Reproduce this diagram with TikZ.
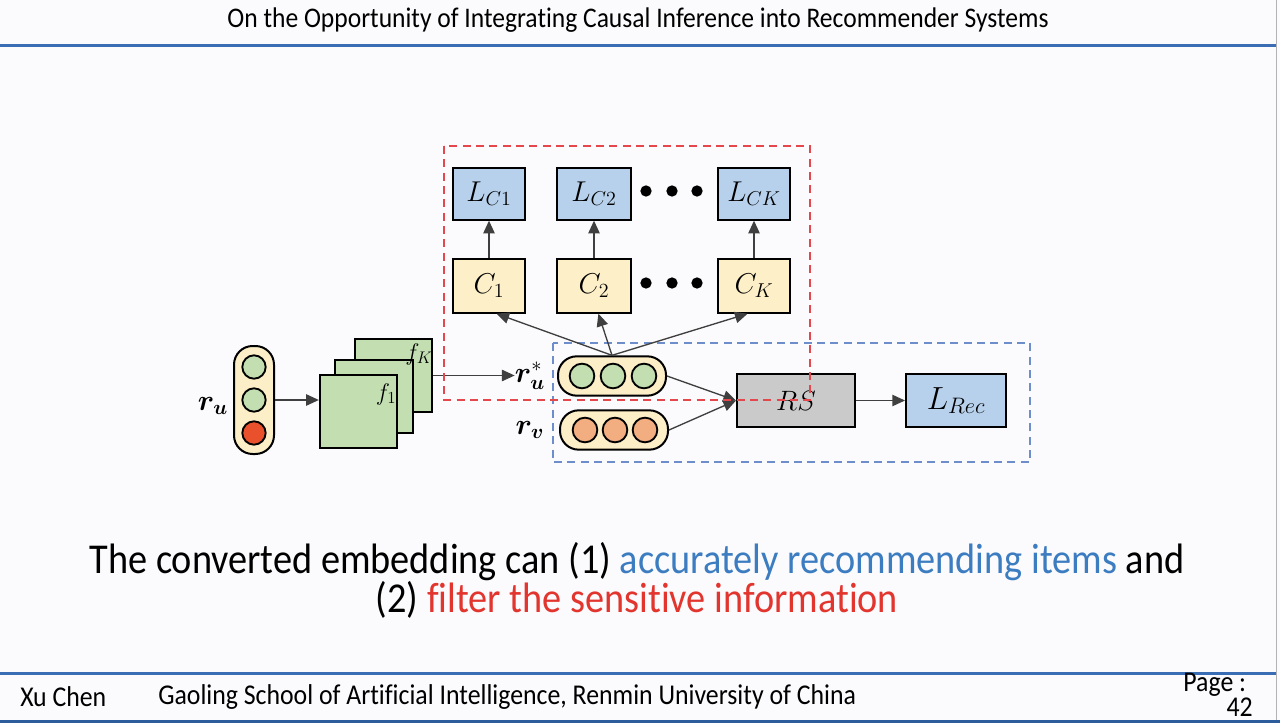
\RequirePackage{fix-cm}
\documentclass[tikz,border=0pt]{standalone}
\usepackage{amsmath,bm}
\usepackage[no-math]{fontspec}
\setmainfont{Carlito}[Ligatures=NoCommon]
\usetikzlibrary{arrows.meta,calc}

\definecolor{slidebg}{HTML}{FBFBFD}
\definecolor{barblue}{HTML}{3A6DB3}
\definecolor{bardark}{HTML}{2D5C9C}
\definecolor{lossblue}{HTML}{B7D1EC}
\definecolor{clsyellow}{HTML}{FDF0C9}
\definecolor{capyellow}{HTML}{FCEFC8}
\definecolor{embgreen}{HTML}{C3DFB2}
\definecolor{embred}{HTML}{E8512C}
\definecolor{emborange}{HTML}{F2AE80}
\definecolor{rsgray}{HTML}{CACACA}
\definecolor{arrgray}{HTML}{3F3F3F}
\definecolor{dashred}{HTML}{E5484C}
\definecolor{dashblue}{HTML}{6D8DCB}
\definecolor{txtblue}{HTML}{3C7CC0}
\definecolor{txtred}{HTML}{E2352E}

\tikzset{
  box/.style={draw=black, line width=1.5pt, inner sep=0pt},
  lossbox/.style={box, fill=lossblue, minimum width=54pt, minimum height=38.5pt,
    font=\fontsize{21.5}{24}\selectfont},
  clsbox/.style={box, fill=clsyellow, minimum width=54pt, minimum height=40pt,
    font=\fontsize{21.5}{24}\selectfont},
  capsule/.style={box, fill=capyellow, rounded corners=14pt},
  emb/.style={circle, draw=black, line width=1.4pt, minimum size=18.5pt, inner sep=0pt},
  filt/.style={box, fill=embgreen, minimum width=58pt, minimum height=55pt},
  bigdot/.style={circle, fill=black, minimum size=8.5pt, inner sep=0pt},
  arr/.style={draw=arrgray, line width=1pt, -{Triangle[length=9.5pt,width=8.5pt]}},
  reddash/.style={draw=dashred, line width=1.2pt, dash pattern=on 6pt off 4pt},
  bluedash/.style={draw=dashblue, line width=1.2pt, dash pattern=on 6pt off 4pt},
  vlabel/.style={inner sep=0pt, font=\fontsize{22}{24}\selectfont},
  slidetext/.style={inner sep=0pt, font=\fontsize{21.5}{24}\selectfont},
}

\begin{document}
\begin{tikzpicture}[x=0.75pt,y=-0.75pt]
% slide frame
\fill[slidebg] (0,0) rectangle (1280,723);
\useasboundingbox (0,0) rectangle (1280,723);
\draw[barblue, line width=2.4pt] (0,45.5) -- (1276,45.5);
\draw[gray!60, line width=0.8pt] (1276.5,0) -- (1276.5,723);
\draw[barblue, line width=2.4pt] (0,673.5) -- (1276,673.5);
\fill[bardark] (0,719.5) rectangle (1280,723);

% header and footer
\node[slidetext, font=\fontsize{21.3}{24}\selectfont] (title) at (638,20)
  {\scalebox{0.9}[1]{On the Opportunity of Integrating Causal Inference into Recommender Systems}};
\node[slidetext, anchor=west] (author) at (20,697)
  {\scalebox{0.9}[1]{Xu Chen}};
\node[slidetext, anchor=west] (school) at (158,697)
  {\scalebox{0.9}[1]{Gaoling School of Artificial Intelligence, Renmin University of China}};
\node[slidetext, anchor=east, align=right, font=\fontsize{21.5}{18.5}\selectfont] (page) at (1253,695)
  {\scalebox{0.9}[1]{Page :}\hspace*{5pt}\\\scalebox{0.9}[1]{42}};

% caption
\node[inner sep=0pt, font=\fontsize{31.9}{36}\selectfont] (cap1) at (637,562)
  {\scalebox{0.9}[1]{The converted embedding can (1) \textcolor{txtblue}{accurately recommending items} and}};
\node[inner sep=0pt, font=\fontsize{31.9}{36}\selectfont] (cap2) at (637,600)
  {\scalebox{0.9}[1]{(2) \textcolor{txtred}{filter the sensitive information}}};

% recommendation branch frame
\draw[bluedash] (553,343) rectangle (1030,462);

% classifiers and their losses
\node[lossbox] (LC1) at (489,194) {$L_{C1}$};
\node[lossbox, minimum width=55.5pt] (LC2) at (594,194) {$L_{C2}$};
\node[lossbox] (LCK) at (754,194) {$L_{CK}$};
\node[clsbox] (C1) at (489,286) {$C_1$};
\node[clsbox, minimum width=55.5pt] (C2) at (594,286) {$C_2$};
\node[clsbox] (CK) at (754,286) {$C_K$};
\node[bigdot] (dl1) at (646,191) {};
\node[bigdot] (dl2) at (672,191) {};
\node[bigdot] (dl3) at (697,191) {};
\node[bigdot] (dc1) at (646,283) {};
\node[bigdot] (dc2) at (672,283) {};
\node[bigdot] (dc3) at (697,283) {};
\draw[arr] (C1.north) -- (LC1.south);
\draw[arr] (C2.north) -- (LC2.south);
\draw[arr] (CK.north) -- (LCK.south);

% user embedding
\node[capsule, minimum width=30pt, minimum height=81pt] (ru) at (254,400) {};
\node[emb, fill=embgreen, minimum size=17.5pt] (ru1) at (254,367) {};
\node[emb, fill=embgreen, minimum size=17.5pt] (ru2) at (254,400) {};
\node[emb, fill=embred, minimum size=17.5pt] (ru3) at (254,433) {};
\node[vlabel] (lru) at (213,406) {$\bm{r}_{\bm{u}}$};

% filters f_1 ... f_K
\node[filt] (fK) at (393.5,375.5) {};
\node[filt] (fm) at (374,396.5) {};
\node[filt] (f1) at (358.5,411.5) {};
\node[inner sep=0pt, font=\fontsize{18}{20}\selectfont] (lf1) at (386,394) {$f_1$};
\node[inner sep=0pt, font=\fontsize{18}{20}\selectfont] (lfK) at (419,354) {$f_K$};
\draw[arr] (ru.east) -- (ru.east -| f1.west);

% converted user embedding and item embedding
\node[vlabel] (lrus) at (530,376) {$\bm{r}^{*}_{\bm{u}}$};
\node[vlabel] (lrv) at (530,430) {$\bm{r}_{\bm{v}}$};
\draw[arr] (fK.east) -- (fK.east -| lrus.west);
\node[capsule, minimum width=81pt, minimum height=29.5pt] (rus) at (612,376) {};
\node[emb, fill=embgreen] (rus1) at (582,376) {};
\node[emb, fill=embgreen] (rus2) at (613,376) {};
\node[emb, fill=embgreen] (rus3) at (644,376) {};
\node[capsule, minimum width=81pt, minimum height=29.5pt] (rv) at (614,430) {};
\node[emb, fill=emborange] (rv1) at (585,430) {};
\node[emb, fill=emborange] (rv2) at (615,430) {};
\node[emb, fill=emborange] (rv3) at (645,430) {};

% recommender and its loss
\node[box, fill=rsgray, minimum width=88.5pt, minimum height=40pt,
  font=\fontsize{21}{24}\selectfont] (RS) at (796,400.5) {$RS$};
\node[lossbox, minimum width=75pt, minimum height=40pt,
  font=\fontsize{24}{26}\selectfont] (LRec) at (956,400.5) {$L_{Rec}$};
\draw[arr] (rus.east) -- (RS.west);
\draw[arr] (rv.east) -- (RS.west);
\draw[arr] (RS.east) -- (LRec.west);

% converted embedding feeds every classifier
\draw[arr] (rus.north) -- (C1.-75);
\draw[arr] (rus.north) -- (C2.-81);
\draw[arr] (rus.north) -- (CK.-103);

% adversarial branch frame
\draw[reddash] (444,146) rectangle (810,400);
\end{tikzpicture}
\end{document}
